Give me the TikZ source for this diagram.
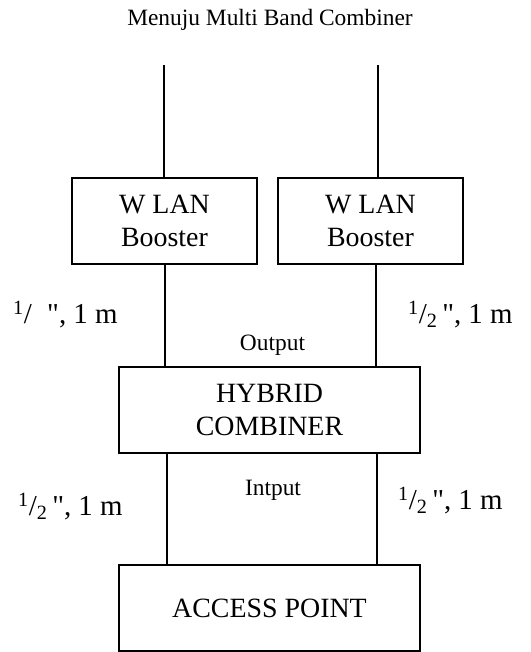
\documentclass[tikz,border=0pt]{standalone}
\usepackage{fontspec}
\setmainfont{Liberation Serif}[Ligatures=TeXOff]
\begin{document}
\begin{tikzpicture}[x=1bp,y=-1bp,
  blk/.style={draw, line width=1.2bp, minimum width=#1, minimum height=86bp, inner sep=0pt, align=center, font=\fontsize{28}{33}\selectfont},
  lbl/.style={anchor=base west, inner sep=0pt, font=\fontsize{29}{33}\selectfont},
  small/.style={anchor=base, inner sep=0pt, font=\fontsize{23.5}{27}\selectfont},
  wire/.style={line width=1.2bp}]
\useasboundingbox (0,0) rectangle (531,652);
\node[small] (title) at (270,26) {Menuju Multi Band Combiner};
\node[blk=185bp] (wl) at (164.5,221) {W LAN\\Booster};
\node[blk=185bp] (wr) at (370.5,221) {W LAN\\Booster};
\node[blk=301bp] (hy) at (269.5,410) {HYBRID\\COMBINER};
\node[blk=301bp] (ap) at (269.5,608) {ACCESS POINT};
\coordinate (tl) at (164,65);
\coordinate (tr) at (378,65);
\coordinate (cl) at (165,0);
\coordinate (cr) at (376,0);
\coordinate (dl) at (167,0);
\coordinate (dr) at (377,0);
\draw[wire] (tl) -- (tl |- wl.north);
\draw[wire] (tr) -- (tr |- wr.north);
\draw[wire] (wl.south -| cl) -- (hy.north -| cl);
\draw[wire] (wr.south -| cr) -- (hy.north -| cr);
\draw[wire] (hy.south -| dl) -- (ap.north -| dl);
\draw[wire] (hy.south -| dr) -- (ap.north -| dr);
\node[small] (out) at (272.5,350) {Output};
\node[small] (inp) at (273,495) {Intput};
\node[lbl] (l1) at (13,323) {\textsuperscript{1}/\phantom{\textsubscript{2}}\,", 1 m};
\node[lbl] (l2) at (408,323) {\textsuperscript{1}/\textsubscript{2}\,", 1 m};
\node[lbl] (l3) at (18,515) {\textsuperscript{1}/\textsubscript{2}\,", 1 m};
\node[lbl] (l4) at (398,509) {\textsuperscript{1}/\textsubscript{2}\,", 1 m};
\end{tikzpicture}
\end{document}
